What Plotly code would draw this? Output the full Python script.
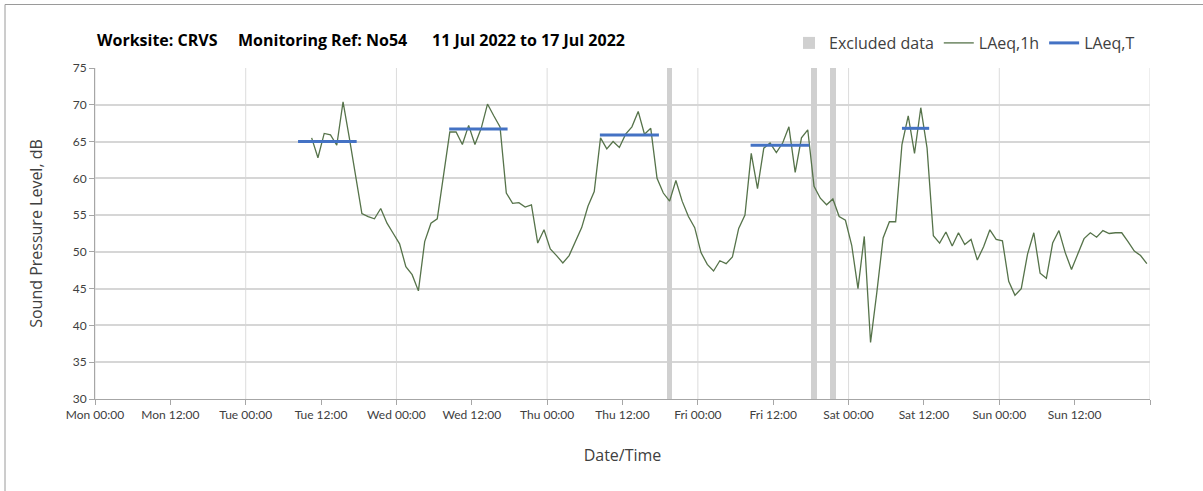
import plotly.graph_objects as go
import pandas as pd

# ---------------- data ----------------
first_time = "2022-07-12 10:30"          # first hourly LAeq,1h point (plotted mid-hour)
laeq_1h = [
    65.5, 62.8, 66.1, 65.9, 64.5, 70.4, 65.5, 60.1, 55.2, 54.8,   # Tue 10:30 ..
    54.5, 55.9, 53.9, 52.5, 51.1, 48.0, 46.9, 44.7, 51.4, 53.9,
    54.5, 60.4, 66.3, 66.3, 64.6, 67.2, 64.6, 66.8, 70.1, 68.5,
    67.0, 58.0, 56.6, 56.7, 56.1, 56.4, 51.2, 53.0, 50.4, 49.5,
    48.5, 49.5, 51.4, 53.3, 56.2, 58.2, 65.5, 64.0, 65.0, 64.2,
    66.0, 67.0, 69.1, 66.0, 66.8, 60.0, 58.0, 56.9, 59.7, 56.9,
    54.8, 53.3, 49.9, 48.3, 47.4, 48.8, 48.4, 49.3, 53.2, 55.0,
    63.4, 58.6, 64.1, 64.8, 63.5, 64.8, 67.0, 60.8, 65.5, 66.6,
    58.9, 57.3, 56.4, 57.2, 54.8, 54.3, 50.9, 45.0, 52.1, 37.7,
    44.5, 51.9, 54.1, 54.1, 64.6, 68.5, 63.4, 69.6, 64.1, 52.2,
    51.2, 52.7, 50.8, 52.6, 51.0, 51.7, 48.9, 50.7, 53.0, 51.7,
    51.5, 46.0, 44.1, 45.0, 49.7, 52.6, 47.1, 46.4, 51.2, 52.9,
    49.9, 47.6, 49.7, 51.8, 52.6, 52.0, 52.9, 52.5, 52.6, 52.6,
    51.4, 50.1, 49.5, 48.4,
]
times_1h = pd.date_range(first_time, periods=len(laeq_1h), freq="h")

excluded_times = ["2022-07-14 19:30", "2022-07-15 18:30", "2022-07-15 21:30"]

laeq_t_start = ["2022-07-12 08:20", "2022-07-13 08:24", "2022-07-14 08:24",
                "2022-07-15 08:24", "2022-07-16 08:30"]
laeq_t_end = ["2022-07-12 17:40", "2022-07-13 17:42", "2022-07-14 17:48",
              "2022-07-15 17:45", "2022-07-16 12:50"]
laeq_t_values = [65.0, 66.7, 65.9, 64.5, 66.8]

tick_labels = ["Mon 00:00", "Mon 12:00", "Tue 00:00", "Tue 12:00", "Wed 00:00",
               "Wed 12:00", "Thu 00:00", "Thu 12:00", "Fri 00:00", "Fri 12:00",
               "Sat 00:00", "Sat 12:00", "Sun 00:00", "Sun 12:00"]
tick_times = pd.date_range("2022-07-11", periods=len(tick_labels), freq="12h")
grid_days = pd.date_range("2022-07-11", "2022-07-18", freq="D")
y_min, y_max = 30, 75

# ---------------- figure ----------------
FONT = "Lato"
WIDE = "Open Sans"
TXT = "#404040"

bt_x, bt_y = [], []
for s, e, v in zip(laeq_t_start, laeq_t_end, laeq_t_values):
    bt_x += [s, e, None]
    bt_y += [v, v, None]

fig = go.Figure()
fig.add_trace(go.Bar(
    x=excluded_times, y=[y_max - y_min] * len(excluded_times), base=y_min,
    width=0.85 * 3600000, marker=dict(color="#d0d0d0", line=dict(width=0)),
    name="Excluded data"))
fig.add_trace(go.Scatter(
    x=times_1h, y=laeq_1h, mode="lines", name="LAeq,1h",
    line=dict(color="#56734a", width=1.3)))
fig.add_trace(go.Scatter(
    x=bt_x, y=bt_y, mode="lines", name="LAeq,T",
    line=dict(color="#4472c4", width=3)))

shapes = []
for d in grid_days:
    shapes.append(dict(type="line", xref="x", yref="paper", x0=d, x1=d, y0=0, y1=1,
                       line=dict(color="#dcdcdc", width=1), layer="below"))
# outer frame (top and left edges)
L, R, T, B = 95, 53, 68, 92
W, H = 1203 - L - R, 491 - T - B
def px(x): return (x - L) / W
def py(y): return (491 - B - y) / H
shapes.append(dict(type="line", xref="paper", yref="paper", x0=px(5), x1=px(1203),
                   y0=py(4.5), y1=py(4.5), line=dict(color="#9a9a9a", width=1)))
shapes.append(dict(type="line", xref="paper", yref="paper", x0=px(5), x1=px(5),
                   y0=py(4.5), y1=py(491), line=dict(color="#9a9a9a", width=1)))

title_parts = [("Worksite: CRVS", 95), ("Monitoring Ref: No54", 236),
               ("11 Jul 2022 to 17 Jul 2022", 430)]
annotations = [dict(text="<b>%s</b>" % t, x=px(x0), y=py(40), xref="paper", yref="paper",
                    xanchor="left", yanchor="middle", showarrow=False,
                    font=dict(family=WIDE, size=16, color="#000000"))
               for t, x0 in title_parts]

fig.update_layout(
    width=1203, height=491,
    margin=dict(l=L, r=R, t=T, b=B),
    paper_bgcolor="white", plot_bgcolor="white",
    font=dict(family=FONT, color=TXT, size=12),
    showlegend=True,
    legend=dict(orientation="h", x=px(1140), xanchor="right", y=py(43), yanchor="middle",
                font=dict(family=WIDE, size=16, color=TXT), bgcolor="rgba(0,0,0,0)",
                traceorder="normal"),
    shapes=shapes, annotations=annotations,
    bargap=0,
)
fig.update_xaxes(
    type="date", range=["2022-07-11", "2022-07-18"],
    tickvals=tick_times, ticktext=tick_labels,
    ticks="outside", ticklen=5, tickcolor="#a6a6a6",
    minor=dict(dtick=12 * 3600000, tick0="2022-07-11", ticks="outside", ticklen=5,
               tickcolor="#a6a6a6", showgrid=False),
    showgrid=False, showline=True, linecolor="#a6a6a6", linewidth=1,
    tickfont=dict(family=FONT, size=12, color=TXT),
    title=dict(text="Date/Time", font=dict(family=WIDE, size=16, color=TXT), standoff=28),
)
fig.update_yaxes(
    range=[y_min, y_max], dtick=5, tick0=30,
    showgrid=True, gridcolor="#d6d6d6", gridwidth=1.5, zeroline=False,
    ticks="outside", ticklen=5, tickcolor="#a6a6a6",
    showline=True, linecolor="#a6a6a6", linewidth=1,
    tickfont=dict(family=FONT, size=12, color=TXT),
    title=dict(text="Sound Pressure Level, dB", font=dict(family=WIDE, size=16, color=TXT),
               standoff=26),
)

fig.write_html("out.html", post_script="document.body.style.margin='0px';",
               config={"displayModeBar": False})
